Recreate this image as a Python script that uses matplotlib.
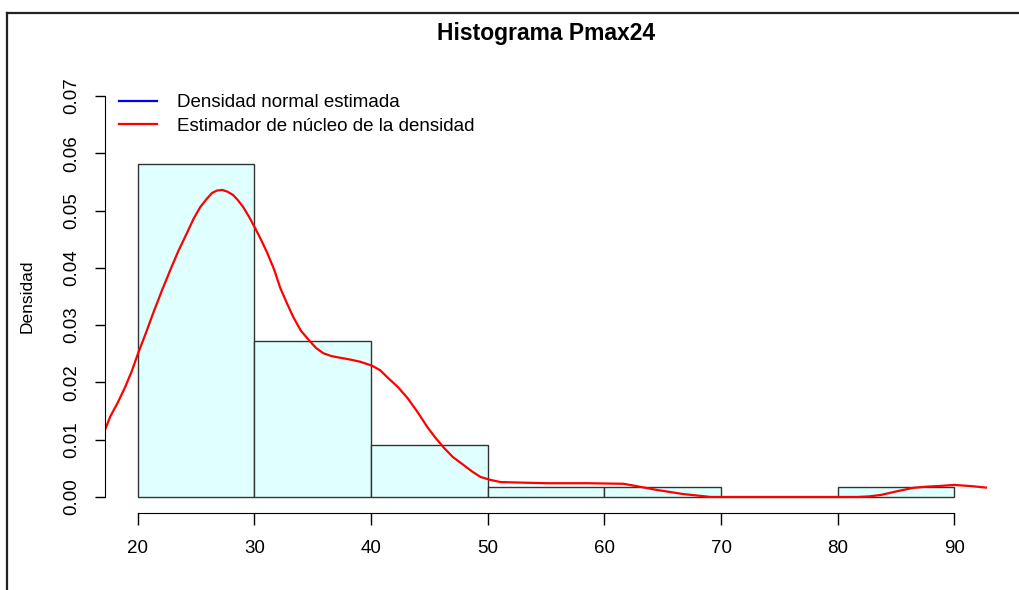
import matplotlib.pyplot as plt
from matplotlib.lines import Line2D
import numpy as np

plt.rcParams['font.family'] = ['Liberation Sans', 'DejaVu Sans']

# histogram of Pmax24 (counts per 10-unit bin)
breaks = [20, 30, 40, 50, 60, 70, 80, 90]
counts = [32, 15, 5, 1, 1, 0, 1]

# kernel density estimate
kde_x = [17.2, 17.64, 18.3, 18.93, 19.5, 20.04, 20.7, 21.33, 22.05, 22.79, 23.5, 24.25,
         24.8, 25.36, 25.9, 26.39, 26.8, 27.25, 27.7, 28.19, 28.6, 29.05, 29.55, 30.08,
         30.6, 31.11, 31.7, 32.22, 32.8, 33.34, 34.0, 34.80, 35.3, 35.91, 36.6, 37.37,
         38.2, 39.09, 40.11, 40.8, 41.4, 42.3, 43.12, 44.0, 44.83, 45.5, 46.2, 47.0,
         47.92, 48.7, 49.38, 50.2, 51.1, 53.0, 55.1, 58.5, 61.65, 63.0, 64.57, 66.8,
         69.1, 75.0, 80.5, 81.7, 82.7, 83.7, 85.1, 86.5, 87.6, 88.6, 90.0, 91.4, 92.9]
kde_y = [0.0117, 0.0140, 0.0165, 0.0192, 0.0220, 0.0251, 0.0286, 0.0321, 0.0359, 0.0396, 0.0430, 0.0462,
         0.0486, 0.0506, 0.0520, 0.0531, 0.0535, 0.0536, 0.0533, 0.0527, 0.0518, 0.0506, 0.0489, 0.0469,
         0.0448, 0.0426, 0.0397, 0.0365, 0.0338, 0.0314, 0.0290, 0.0271, 0.0260, 0.0251, 0.0246, 0.0243,
         0.0240, 0.0236, 0.0229, 0.0221, 0.0209, 0.0192, 0.0173, 0.0148, 0.0122, 0.0104, 0.0087, 0.0070,
         0.0056, 0.0044, 0.0035, 0.0030, 0.0026, 0.0025, 0.0024, 0.0024, 0.0023, 0.0018, 0.0012, 0.0005,
         0.0000, 0.0000, 0.0000, 0.0000, 0.0001, 0.00035, 0.0010, 0.0016, 0.0018, 0.0019, 0.0021, 0.0019, 0.0016]

mids = [(a + b) / 2 for a, b in zip(breaks[:-1], breaks[1:])]

fig = plt.figure(figsize=(10.19, 5.90), dpi=100)
ax = fig.add_axes([105 / 1019, 1 - 513 / 590, (987 - 105) / 1019, (513 - 80) / 590])

ax.hist(mids, bins=breaks, weights=counts, density=True,
        facecolor='#E0FFFF', edgecolor='#333333', linewidth=1)
ax.plot(kde_x, kde_y, color='red', lw=1.6)

ax.set_xlim(17.2, 92.8)
ax.set_ylim(-0.0028, 0.0728)

for s in ['top', 'right']:
    ax.spines[s].set_visible(False)
ax.spines['bottom'].set_bounds(20, 90)
ax.spines['left'].set_bounds(0, 0.07)
ax.set_xticks(np.arange(20, 91, 10))
ax.set_yticks(np.arange(0, 0.071, 0.01))
ax.set_yticklabels(['%.2f' % v for v in np.arange(0, 0.071, 0.01)],
                   rotation=90, va='center')
ax.tick_params(axis='x', length=8.6, width=1, labelsize=13.5, pad=11)
ax.tick_params(axis='y', length=7.5, width=1, labelsize=13.5, pad=10)

ax.set_title('Histograma Pmax24', fontsize=16.5, fontweight='bold', pad=29)
ax.set_ylabel('Densidad', fontsize=12.5, labelpad=21)

handles = [Line2D([], [], color='blue', lw=1.6), Line2D([], [], color='red', lw=1.6)]
ax.legend(handles, ['Densidad normal estimada', 'Estimador de núcleo de la densidad'],
          loc='upper left', bbox_to_anchor=(0.0, 1.0), frameon=False, fontsize=13.5,
          handlelength=2.0, handletextpad=1.1, labelspacing=0.35, borderaxespad=0.35)

# screenshot frame
fig.add_artist(Line2D([7 / 1019, 7 / 1019], [0, 1 - 13 / 590], color='#222222', lw=1.6))
fig.add_artist(Line2D([7 / 1019, 1], [1 - 13 / 590, 1 - 13 / 590], color='#222222', lw=1.6))

fig.savefig('out.png', dpi=100)
